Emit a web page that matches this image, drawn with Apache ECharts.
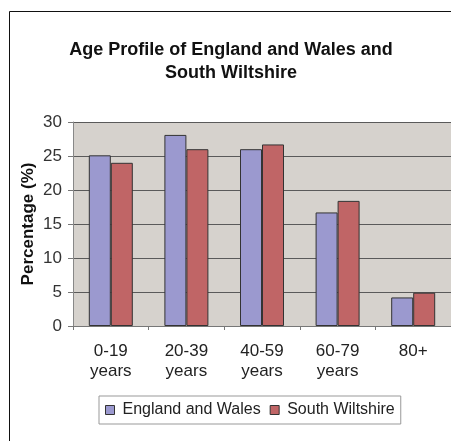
<!DOCTYPE html>
<html><head><meta charset="utf-8">
<script src="https://cdn.jsdelivr.net/npm/echarts@6/dist/echarts.min.js"></script>
<style>html,body{margin:0;padding:0;background:#fff}#c{width:451px;height:441px}</style>
</head><body><div id="c"></div>
<script>
const categories = ['0-19\nyears', '20-39\nyears', '40-59\nyears', '60-79\nyears', '80+'];
const englandWales = [25.1, 28.1, 26.0, 16.7, 4.2];
const southWiltshire = [24.0, 26.0, 26.7, 18.4, 4.9];
const seriesNames = ['England and Wales', 'South Wiltshire'];
const titleText = 'Age Profile of England and Wales and\nSouth Wiltshire';
const yTitle = 'Percentage (%)';

const F = '"Liberation Sans", Arial, sans-serif';
const chart = echarts.init(document.getElementById('c'), null, {renderer: 'canvas'});
chart.setOption({
  animation: false,
  backgroundColor: '#fff',
  title: {
    text: titleText, left: 226, top: 34, textAlign: 'center',
    textStyle: {fontFamily: F, fontSize: 18, fontWeight: 'bold', color: '#111', lineHeight: 23}
  },
  graphic: [{
    type: 'rect', shape: {x: 9.5, y: 11.5, width: 480, height: 480},
    style: {fill: 'none', stroke: '#111', lineWidth: 1}, z: 100
  }],
  grid: {left: 73, top: 122, width: 382, height: 204, backgroundColor: '#d6d2cd', show: true, borderWidth: 0},
  xAxis: {
    type: 'category', data: categories,
    axisLine: {lineStyle: {color: '#777'}},
    axisTick: {show: true, length: 4, lineStyle: {color: '#777'}},
    axisLabel: {fontFamily: F, fontSize: 17, color: '#222', margin: 15, lineHeight: 20}
  },
  yAxis: {
    type: 'value', min: 0, max: 30, interval: 5,
    name: yTitle, nameLocation: 'middle', nameGap: 36, nameMoveOverlap: false,
    nameTextStyle: {fontFamily: F, fontSize: 17, fontWeight: 'bold', color: '#111'},
    axisLine: {show: true, lineStyle: {color: '#888'}},
    axisTick: {show: true, length: 5, lineStyle: {color: '#777'}},
    axisLabel: {fontFamily: F, fontSize: 17, color: '#333', margin: 11},
    splitLine: {lineStyle: {color: '#5a5a5a', width: 1}}
  },
  legend: {
    data: seriesNames, left: 99, top: 396,
    icon: 'rect', itemWidth: 9, itemHeight: 9, itemGap: 9,
    padding: [6, 6, 6, 6],
    borderColor: '#999', borderWidth: 1,
    textStyle: {fontFamily: F, fontSize: 16, color: '#222', padding: [0, 0, 0, 3]},
    itemStyle: {borderColor: '#333', borderWidth: 1}
  },
  series: [
    {name: seriesNames[0], type: 'bar', data: englandWales, barWidth: 22, barGap: '0%',
     itemStyle: {color: '#9b99cf', borderColor: '#333', borderWidth: 1}},
    {name: seriesNames[1], type: 'bar', data: southWiltshire, barWidth: 22, barGap: '0%',
     itemStyle: {color: '#c06566', borderColor: '#333', borderWidth: 1}}
  ]
});
</script></body></html>
